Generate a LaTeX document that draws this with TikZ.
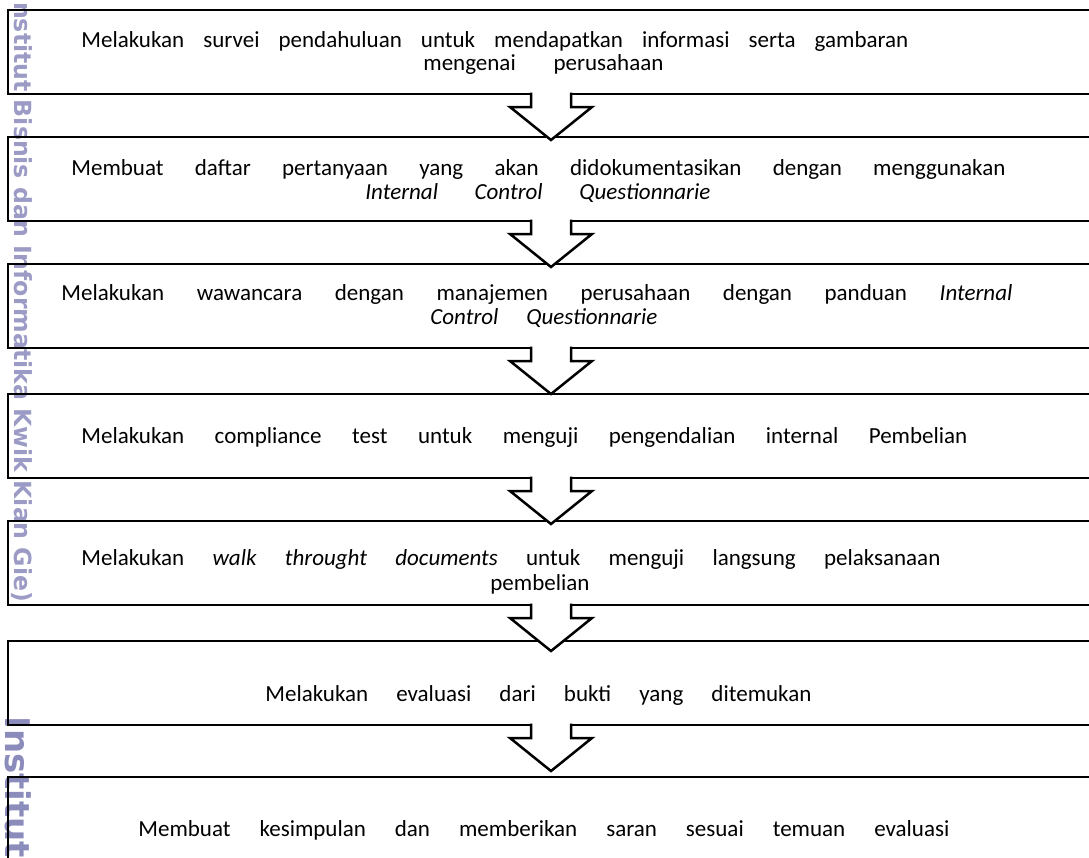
\documentclass[tikz,border=0pt]{standalone}
\usepackage{fontspec}
\setmainfont{Carlito}
\newfontfamily\wmfont{DejaVu Sans}
\usepackage{tikz}
\usetikzlibrary{calc}
\definecolor{wmgray}{RGB}{155,155,198}
\definecolor{wmdark}{RGB}{140,140,188}
\tikzstyle{flowbox}=[draw, rectangle, line width=1.25pt, minimum width=543pt, minimum height=42pt, inner sep=0pt, outer sep=0pt, anchor=north west]
\tikzstyle{blockarrow}=[draw, fill=white, line width=1.25pt, line join=miter]
\tikzstyle{textline}=[anchor=base west, inner sep=0pt, font=\fontsize{11.5}{12}\selectfont]
\tikzstyle{watermark}=[anchor=base west, inner sep=0pt, rotate=-90, text=wmgray]
\newcommand{\flowbox}{\node[flowbox]}
\newcommand{\spread}[2]{\makebox[#1][s]{#2}}
\newcommand{\flowarrow}[2]{%
	\draw[blockarrow] ($(#1.south)+(-20,-1.5)$) -- ($(#1.south)+(-20,13)$)
		-- ($(#1.south)+(-41,13)$) -- ($(#1.south)!23pt!(#2.north)$)
		-- ($(#1.south)+(41,13)$) -- ($(#1.south)+(20,13)$)
		-- ($(#1.south)+(20,-1.5)$);}

\begin{document}
\begin{tikzpicture}[x=0.5pt, y=-0.5pt]
	\useasboundingbox (0,0) rectangle (1089,858);
	\clip (0,0) rectangle (1089,858);
	%% the watermark
	\node[watermark, font=\wmfont\bfseries\fontsize{11.8}{13}\selectfont] (wm1) at (14,-7) {Institut Bisnis dan Informatika Kwik Kian Gie)};
	\node[watermark, text=wmdark, font=\wmfont\bfseries\fontsize{17}{19}\selectfont] (wm2) at (5,716) {Institut};
	%% the boxes
	\flowbox (survei) at (8,10) {};
	\flowbox (daftar) at (8,137) {};
	\flowbox (wawancara) at (8,264) {};
	\flowbox (compliance) at (8,394) {};
	\flowbox (walk) at (8,521) {};
	\flowbox (evaluasi) at (8,641) {};
	\flowbox (simpulan) at (8,777) {};
	%% the texts
	\node[textline] (survei1) at (81,47) {\spread{413.5pt}{Melakukan survei pendahuluan untuk mendapatkan informasi serta gambaran}};
	\node[textline] (survei2) at (423,70) {\spread{120pt}{mengenai perusahaan}};
	\node[textline] (daftar1) at (71,175) {\spread{467pt}{Membuat daftar pertanyaan yang akan didokumentasikan dengan menggunakan}};
	\node[textline] (daftar2) at (365,199) {\spread{172.5pt}{\itshape Internal Control Questionnarie}};
	\node[textline] (wawancara1) at (61,300) {\spread{475.5pt}{Melakukan wawancara dengan manajemen perusahaan dengan panduan \textit{Internal}}};
	\node[textline] (wawancara2) at (430,324) {\spread{113.5pt}{\itshape Control Questionnarie}};
	\node[textline] (compliance1) at (81,443) {\spread{443pt}{Melakukan compliance test untuk menguji pengendalian internal Pembelian}};
	\node[textline] (walk1) at (81,565) {\spread{429.5pt}{Melakukan \textit{walk throught documents} untuk menguji langsung pelaksanaan}};
	\node[textline] (walk2) at (490,590) {pembelian};
	\node[textline] (evaluasi1) at (265,701) {\spread{273pt}{Melakukan evaluasi dari bukti yang ditemukan}};
	\node[textline] (simpulan1) at (138,836) {\spread{405.5pt}{Membuat kesimpulan dan memberikan saran sesuai temuan evaluasi}};
	%% for the arrows
	\flowarrow{survei}{daftar}
	\flowarrow{daftar}{wawancara}
	\flowarrow{wawancara}{compliance}
	\flowarrow{compliance}{walk}
	\flowarrow{walk}{evaluasi}
	\flowarrow{evaluasi}{simpulan}
\end{tikzpicture}
\end{document}
